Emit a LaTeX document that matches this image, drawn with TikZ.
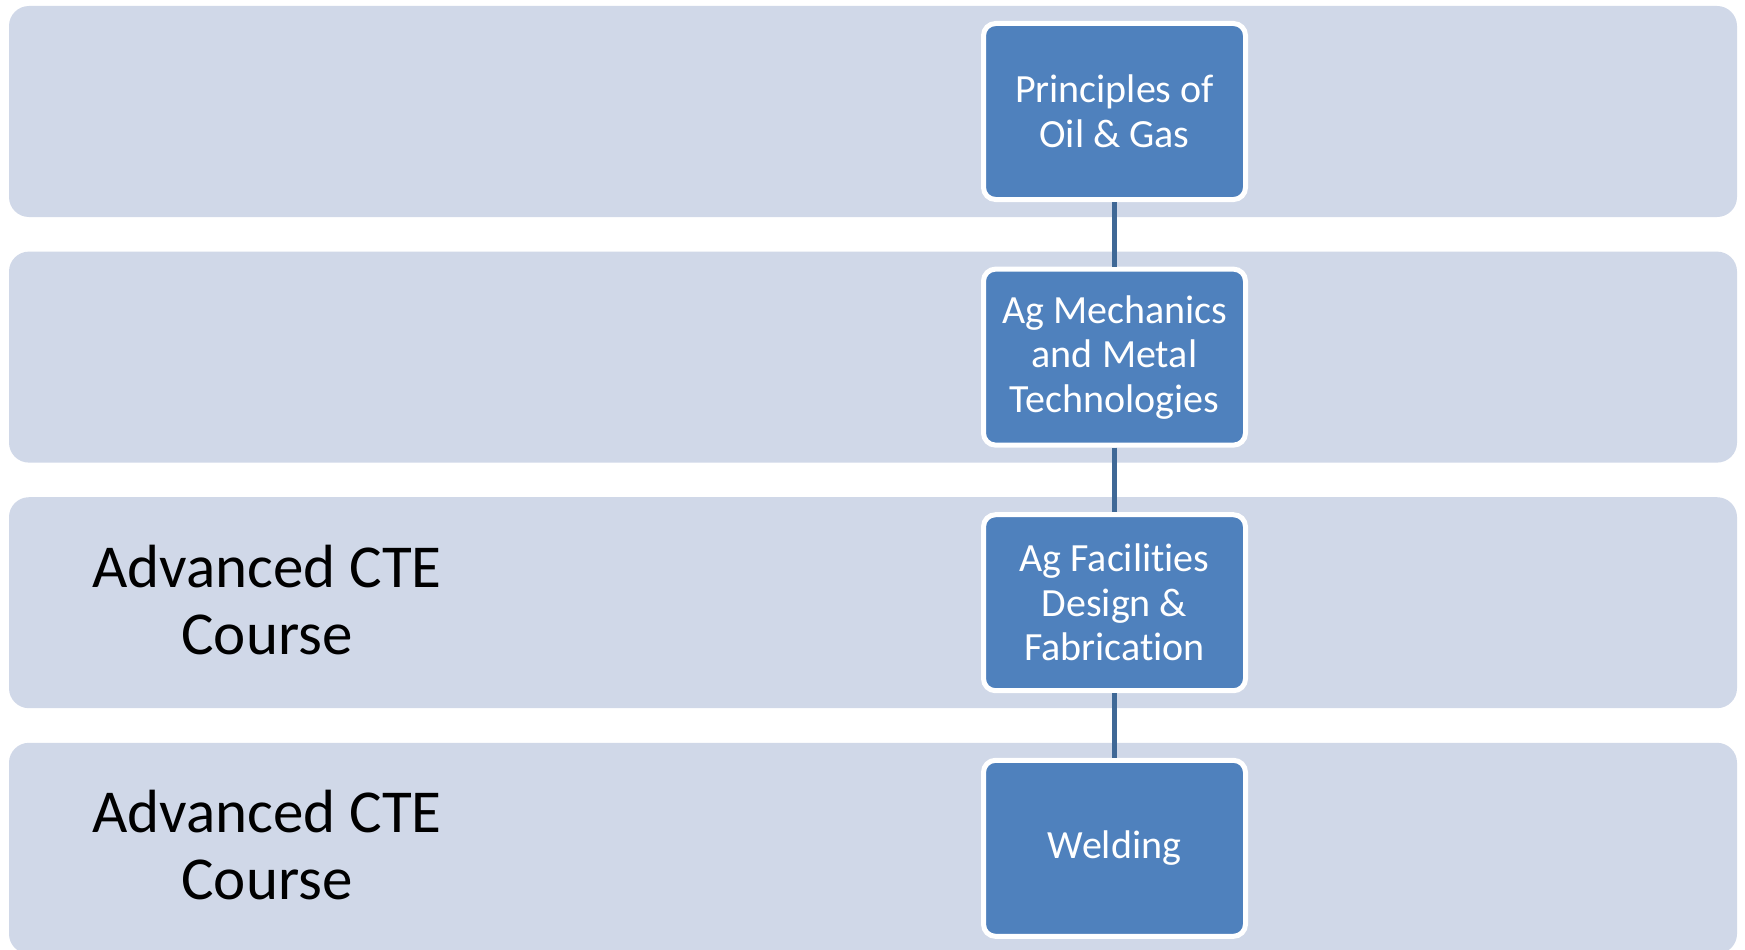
\documentclass[tikz,border=0pt]{standalone}
\usepackage{fontspec}
\setmainfont{Carlito}[Ligatures=NoCommon]
\definecolor{bandfill}{HTML}{D0D8E8}
\definecolor{boxfill}{HTML}{4F81BD}
\definecolor{linkcol}{HTML}{3F6896}
\begin{document}
\begin{tikzpicture}[x=1pt,y=-1pt,
  band/.style={fill=bandfill,rounded corners=20pt},
  coursebox/.style={draw=white,line width=5pt,fill=boxfill,rounded corners=12pt,
    minimum width=262pt,minimum height=176pt,inner sep=0pt,align=center,
    text=white,font=\fontsize{40}{44.5}\selectfont},
  levellabel/.style={align=center,text=black,font=\fontsize{61}{67}\selectfont,inner sep=0pt},
  link/.style={draw=linkcol,line width=5.5pt}]
\useasboundingbox (0,0) rectangle (1745,950);
\fill[white] (0,0) rectangle (1745,950);
\foreach \k in {0,1,2,3}{
  \path[band] (9,6+245.6*\k) rectangle (1737,217+245.6*\k);
}
\node[coursebox] (b1) at (1114.5,111.5) {Principles of\\Oil \& Gas};
\node[coursebox] (b2) at (1114.5,357.1) {Ag Mechanics\\and Metal\\Technologies};
\node[coursebox] (b3) at (1114.5,602.7) {Ag Facilities\\Design \&\\Fabrication};
\node[coursebox] (b4) at (1114.5,848.3) {Welding};
\draw[link] (b1.south) -- (b2.north);
\draw[link] (b2.south) -- (b3.north);
\draw[link] (b3.south) -- (b4.north);
\node[levellabel,anchor=base] (l3) at (267,654) {Advanced CTE\\Course};
\node[levellabel,anchor=base] (l4) at (267,899.6) {Advanced CTE\\Course};
\end{tikzpicture}
\end{document}
